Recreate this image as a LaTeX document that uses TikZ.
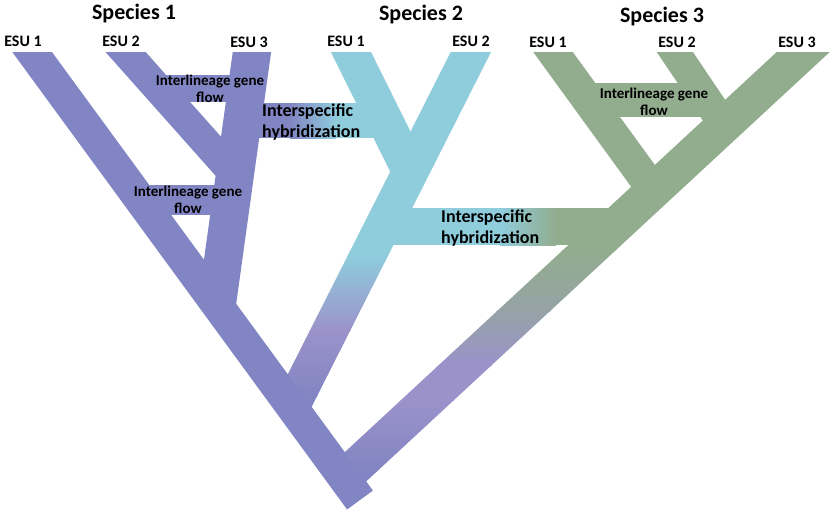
\documentclass[tikz,border=0pt]{standalone}
\usepackage{fontspec}
\setmainfont{Carlito}
\usetikzlibrary{calc}

\definecolor{spone}{RGB}{130,133,195}
\definecolor{sptwo}{RGB}{143,205,221}
\definecolor{spthree}{RGB}{146,172,142}
\definecolor{lavender}{RGB}{155,146,202}
\definecolor{greyteal}{RGB}{150,163,166}

\begin{document}
\begin{tikzpicture}[x=1pt,y=-1pt,
  esu/.style={font=\bfseries\fontsize{16}{18}\selectfont, inner sep=0pt},
  species/.style={font=\bfseries\fontsize{22}{26}\selectfont, inner sep=0pt},
  flowlabel/.style={font=\bfseries\fontsize{15}{17}\selectfont, align=center, inner sep=0pt},
  hyblabel/.style={font=\bfseries\fontsize{18}{21}\selectfont, align=left, anchor=west, inner sep=0pt},
  branch/.style={line width=#1, line cap=butt}]

\useasboundingbox (0,0) rectangle (835,517);

% tips (above the cut at y=52)
\coordinate (A) at (16,30);    % species 1, ESU 1
\coordinate (B) at (106,30);   % species 1, ESU 2
\coordinate (C) at (255,30);   % species 1, ESU 3
\coordinate (D) at (340,30);   % species 2, ESU 1
\coordinate (H) at (482,30);   % species 2, ESU 2
\coordinate (E) at (537,30);   % species 3, ESU 1
\coordinate (F) at (660,30);   % species 3, ESU 2
\coordinate (G) at (827,30);   % species 3, ESU 3

% joins
\coordinate (R) at (360,500);
\coordinate (BC) at (235,175);
\coordinate (CR) at (217,304);
\coordinate (DH) at (410,171);
\coordinate (HR) at (291.6,406.6);
\coordinate (EG) at (662,202);
\coordinate (FG) at (724,125);
\coordinate (GR) at (352,470);

\begin{scope}
\clip (0,52) rectangle (835,517);

% species 2 stem
\begin{scope}
\clip ($(H)!18pt!90:(HR)$) -- ($(H)!18pt!-90:(HR)$) -- ($(HR)!18pt!90:(H)$) -- ($(HR)!18pt!-90:(H)$) -- cycle;
\fill[sptwo] (250,0) rectangle (520,256);
\shade[top color=sptwo, bottom color=lavender] (250,255) rectangle (520,331);
\shade[top color=lavender, bottom color=spone] (250,330) rectangle (520,396);
\fill[spone] (250,395) rectangle (520,440);
\end{scope}

% hybridization bands
\fill[spone] (245,103) rectangle (291,138);
\fill[sptwo] (335,103) rectangle (385,138);
\shade[left color=spone, right color=sptwo] (290,103) rectangle (336,138);
\fill[sptwo] (385,208) rectangle (501,245);
\fill[spthree] (555,208) rectangle (615,245);
\shade[left color=sptwo, right color=spthree] (500,208) rectangle (556,245);

% species 3 trunk
\begin{scope}
\clip ($(G)!18pt!90:(GR)$) -- ($(G)!18pt!-90:(GR)$) -- ($(GR)!18pt!90:(G)$) -- ($(GR)!18pt!-90:(G)$) -- cycle;
\fill[spthree] (330,0) rectangle (835,251);
\shade[top color=spthree, bottom color=greyteal] (330,250) rectangle (835,311);
\shade[top color=greyteal, bottom color=lavender] (330,310) rectangle (835,366);
\fill[lavender] (330,365) rectangle (835,401);
\shade[top color=lavender, bottom color=spone] (330,400) rectangle (835,471);
\fill[spone] (330,470) rectangle (835,500);
\end{scope}

% species 3
\draw[branch=32pt, spthree] (E) -- (EG);
\draw[branch=30pt, spthree] (F) -- (FG);
\fill[spthree] (590,83) rectangle (705,117);

% species 2
\draw[branch=36pt, sptwo] (D) -- (DH);

% species 1
\fill[spone] (150,75) rectangle (245,102);
\fill[spone] (140,185) rectangle (225,215);
\draw[branch=30pt, spone] (B) -- (BC);
\draw[branch=38pt, spone] (C) -- (CR);
\draw[branch=32pt, spone] (A) -- (R);
\end{scope}

\node[species] (sp1) at (134,14) {Species 1};
\node[species] (sp2) at (421,15) {Species 2};
\node[species] (sp3) at (662,17) {Species 3};

\node[esu] (s1e1) at (23,41) {ESU 1};
\node[esu] (s1e2) at (121,41) {ESU 2};
\node[esu] (s1e3) at (249,42) {ESU 3};
\node[esu] (s2e1) at (346,41) {ESU 1};
\node[esu] (s2e2) at (471,41) {ESU 2};
\node[esu] (s3e1) at (548,42) {ESU 1};
\node[esu] (s3e2) at (677,42) {ESU 2};
\node[esu] (s3e3) at (797,42) {ESU 3};

\node[flowlabel] (gf1) at (210,89) {Interlineage gene\\flow};
\node[flowlabel] (gf2) at (188,200) {Interlineage gene\\flow};
\node[flowlabel] (gf3) at (654,102) {Interlineage gene\\flow};

\node[hyblabel] (hy1) at (262,122) {Interspecific\\hybridization};
\node[hyblabel] (hy2) at (441,228) {Interspecific\\hybridization};

\end{tikzpicture}
\end{document}
